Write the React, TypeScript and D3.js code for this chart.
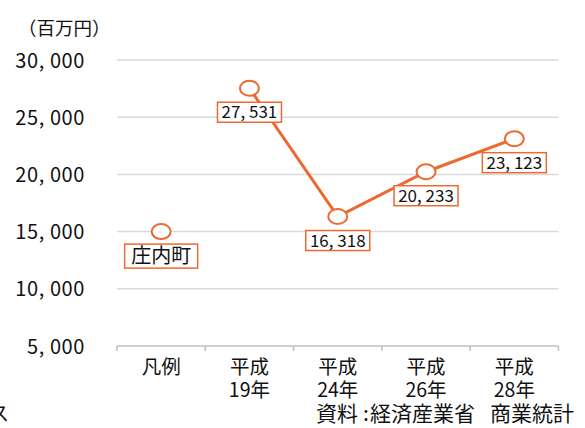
import React from "react";
import * as d3 from "d3";

const categories = ["凡例", "平成\n19年", "平成\n24年", "平成\n26年", "平成\n28年"];
const seriesValues = [27531, 16318, 20233, 23123];
const legendValue = 15000;
const legendLabel = "庄内町";
const yTicks = [5000, 10000, 15000, 20000, 25000, 30000];
const yTitle = "（百万円）";
const sourceParts = ["資料", ":", "経済産業省", "商業統計"];

const W = 585, H = 428;
const ORANGE = "#EC6A2F";
const TEXT = "#111";
const FONT = "'Noto Sans CJK JP', 'Noto Sans', sans-serif";
const fmt = (v: number) => d3.format(",")(v).replace(",", ", ");

export default function App() {
  const x = d3.scaleBand().domain(categories).range([117, 558.5]);
  const y = d3.scaleLinear().domain([5000, 30000]).range([346, 60]);
  const cx = (i: number) => (x(categories[i]) as number) + x.bandwidth() / 2;
  const pts = seriesValues.map((v, i) => [cx(i + 1), y(v)] as [number, number]);
  const line = d3.line();
  const labelData = [
    { x: cx(0), y: y(legendValue), text: legendLabel, w: 73, h: 24, fs: 20, dy: 12.5 },
    ...seriesValues.map((v, i) => ({ x: cx(i + 1), y: y(v), text: fmt(v), w: 64, h: 20, fs: 17, dy: 14 })),
  ];
  const boundaries = [...categories.map((c) => x(c) as number), 558.5];
  const srcX = [316, 366, 370, 490];
  return (
    <svg width={W} height={H} style={{ position: "absolute", left: 0, top: 0, background: "#fff" }} fontFamily={FONT}>
      {yTicks.slice(1).map((t) => (
        <line key={t} x1={117} x2={558.5} y1={y(t)} y2={y(t)} stroke="#d9d9d9" strokeWidth={1.5} />
      ))}
      <line x1={117} x2={558.5} y1={y(5000)} y2={y(5000)} stroke="#bfbfbf" strokeWidth={1.5} />
      {boundaries.map((b, i) => (
        <line key={i} x1={b} x2={b} y1={346} y2={351} stroke="#bfbfbf" strokeWidth={1.5} />
      ))}
      {yTicks.map((t) => (
        <text key={t} x={85} y={y(t) + 7.5} textAnchor="end" fontSize={20} letterSpacing={0.6} fill={TEXT}>{fmt(t)}</text>
      ))}
      <text x={18} y={35} fontSize={18.5} fill={TEXT}>{yTitle}</text>
      {categories.map((c, i) => (
        <text key={c} x={cx(i)} textAnchor="middle" fontSize={19.5} fill={TEXT}>
          {c.split("\n").map((s, j) => (
            <tspan key={j} x={cx(i)} y={374 + j * 23}>{s}</tspan>
          ))}
        </text>
      ))}
      <path d={line(pts) as string} fill="none" stroke={ORANGE} strokeWidth={3} />
      {labelData.map((d, i) => (
        <g key={i}>
          <rect x={d.x - d.w / 2} y={d.y + d.dy} width={d.w} height={d.h} fill="#fff" stroke={ORANGE} strokeWidth={1.5} />
          <text x={d.x} y={d.y + d.dy + d.h / 2 + d.fs * 0.36} textAnchor="middle" fontSize={d.fs} fill={TEXT}>{d.text}</text>
        </g>
      ))}
      {labelData.map((d, i) => (
        <ellipse key={i} cx={d.x} cy={d.y} rx={9.5} ry={7.5} fill="#fff" stroke={ORANGE} strokeWidth={2} />
      ))}
      <text y={421} fontSize={21} fill={TEXT}>
        {sourceParts.map((s, i) => (
          <tspan key={i} x={srcX[i]} textAnchor={i === 1 ? "middle" : "start"}>{s}</tspan>
        ))}
      </text>
      <text x={-11} y={421} fontSize={20} fill={TEXT}>ス</text>
    </svg>
  );
}
